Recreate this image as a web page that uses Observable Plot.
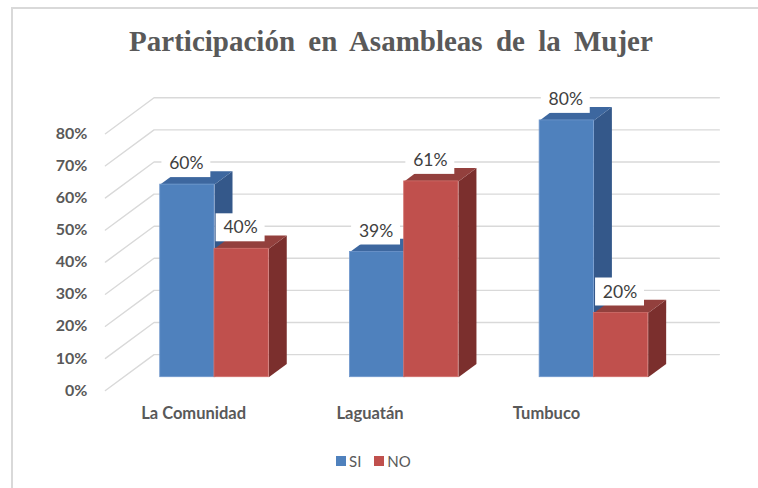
<!DOCTYPE html>
<html><head><meta charset="utf-8">
<script src="https://cdn.jsdelivr.net/npm/d3@7"></script>
<script src="https://cdn.jsdelivr.net/npm/@observablehq/plot@0.6"></script>
<style>
body{margin:0;background:#fff;width:758px;height:488px;overflow:hidden;position:relative;font-family:Lato,sans-serif}
#frame{position:absolute;left:11px;top:7px;width:800px;height:520px;border-top:2px solid #d9d9d9;border-left:2px solid #d9d9d9;box-sizing:border-box}
#chart{position:absolute;left:0;top:0}
#title{position:absolute;left:0;width:782px;top:25px;text-align:center;font:bold 29px "Liberation Serif",serif;color:#595959;word-spacing:6px;white-space:nowrap}
#legend{position:absolute;left:336px;top:452px;display:flex;align-items:center;font:15px Lato,sans-serif;color:#595959}
#legend .sw{width:10px;height:10px;display:inline-block;margin-right:3px}
#legend .it{display:flex;align-items:center;margin-right:13px}
</style></head>
<body>
<div id="frame"></div>
<div id="chart"></div>
<div id="title">Participación en Asambleas de la Mujer</div>
<div id="legend"></div>
<script>
const categories = ["La Comunidad", "Laguatán", "Tumbuco"];
const seriesNames = ["SI", "NO"];
const siValues = [0.60, 0.39, 0.80];
const noValues = [0.40, 0.61, 0.20];
const yTicks = [0, 0.1, 0.2, 0.3, 0.4, 0.5, 0.6, 0.7, 0.8];
const frontColors = {SI: "#4f81bd", NO: "#c0504d"};
const sideColors = {SI: "#34588a", NO: "#7b2f2d"};
const topColors = {SI: "#3d679f", NO: "#93403d"};
const edgeColors = {SI: "#6f97cc", NO: "#d06f6c"};

// 3D projection: one depth unit shifts right by DX and up by DY (data units)
const DX = 0.0949, DY = 0.0414;
const BW = 0.286;                 // bar width (x units)
const FLOOR_L = -0.48, FLOOR_R = 2.5;
const Z_AXIS = -1, Z_WALL = 1.7;
const BOX_HW = 0.129, BOX_HH = 0.0436; // label box half-size (x / y units)
const pct = v => Math.round(v * 100) + "%";

const bars = [];
categories.forEach((c, i) => {
  bars.push({cat: c, i, series: "SI", value: siValues[i], x1: i - BW, x2: i});
  bars.push({cat: c, i, series: "NO", value: noValues[i], x1: i, x2: i + BW});
});

const facePts = [];
bars.forEach(b => {
  const side = [[b.x2, 0], [b.x2, b.value], [b.x2 + DX, b.value + DY], [b.x2 + DX, DY]];
  const top = [[b.x1, b.value], [b.x2, b.value], [b.x2 + DX, b.value + DY], [b.x1 + DX, b.value + DY]];
  side.forEach(([x, y]) => facePts.push({id: b.cat + b.series + "side", series: b.series, kind: "side", x, y}));
  top.forEach(([x, y]) => facePts.push({id: b.cat + b.series + "top", series: b.series, kind: "top", x, y}));
});

const gridPts = [];
yTicks.forEach(v => {
  gridPts.push({v, x: FLOOR_L + Z_AXIS * DX, y: v + Z_AXIS * DY});
  gridPts.push({v, x: FLOOR_L + Z_WALL * DX, y: v + Z_WALL * DY});
  gridPts.push({v, x: FLOOR_R + Z_WALL * DX, y: v + Z_WALL * DY});
});

const barMarks = [];
seriesNames.forEach(s => {
  const fp = facePts.filter(d => d.series === s);
  barMarks.push(Plot.line(fp.filter(d => d.kind === "side"), {x: "x", y: "y", z: "id", fill: sideColors[s], stroke: "none"}));
  barMarks.push(Plot.line(fp.filter(d => d.kind === "top"), {x: "x", y: "y", z: "id", fill: topColors[s], stroke: "none"}));
  barMarks.push(Plot.rect(bars.filter(d => d.series === s), {x1: "x1", x2: "x2", y1: d => 0, y2: "value", fill: frontColors[s], stroke: edgeColors[s], strokeWidth: 0.8}));
});

const cx = d => (d.x1 + d.x2) / 2;
const chart = Plot.plot({
  width: 758, height: 488, margin: 0,
  style: {fontFamily: "Lato, sans-serif", background: "transparent"},
  x: {domain: [0, 2], range: [214, 593.4], axis: null},
  y: {domain: [0, 0.8], range: [376.7, 119.9], axis: null},
  marks: [
    Plot.line(gridPts, {x: "x", y: "y", z: "v", stroke: "#d9d9d9", strokeWidth: 1.4}),
    Plot.text(yTicks, {x: FLOOR_L + Z_AXIS * DX, y: d => d + Z_AXIS * DY, text: pct, dx: -18, textAnchor: "end", fill: "#595959", fontSize: 16, fontWeight: "bold"}),
    ...barMarks,
    Plot.rect(bars, {x1: d => cx(d) - BOX_HW, x2: d => cx(d) + BOX_HW, y1: d => d.value - BOX_HH, y2: d => d.value + BOX_HH, dy: -21, dx: -1, fill: "white"}),
    Plot.text(bars, {x: cx, y: "value", text: d => pct(d.value), dy: -21, dx: -1, fill: "#404040", fontSize: 17.5}),
    Plot.text(categories, {x: (d, i) => i * 0.93 - 0.11, y: d => 0, text: d => d, dy: 37, fill: "#595959", fontSize: 16.5, fontWeight: "bold"})
  ]
});
document.getElementById("chart").appendChild(chart);

const legend = document.getElementById("legend");
seriesNames.forEach(s => {
  const it = document.createElement("span");
  it.className = "it";
  it.innerHTML = `<span class="sw" style="background:${frontColors[s]}"></span>${s}`;
  legend.appendChild(it);
});
</script>
</body></html>
